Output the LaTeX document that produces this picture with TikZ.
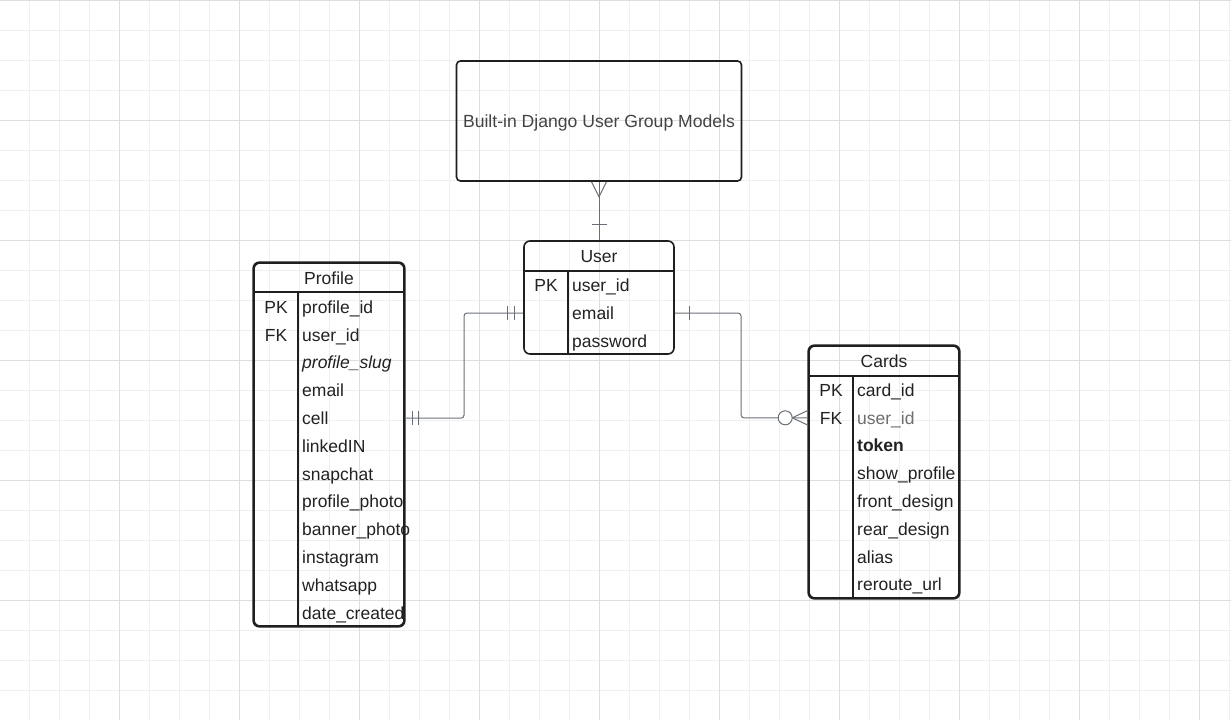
\documentclass[tikz,border=0pt]{standalone}
\usepackage{fontspec}
\setmainfont{Liberation Sans}
\usetikzlibrary{positioning,calc}
\definecolor{gridmin}{HTML}{EFEFEF}
\definecolor{gridmaj}{HTML}{DEDEDE}
\definecolor{boxline}{HTML}{1F1F1F}
\definecolor{relline}{HTML}{6B7077}
\definecolor{txt}{HTML}{222222}
\definecolor{fktxt}{HTML}{6E6E6E}
\tikzset{
  tbl/.style={draw=boxline, line width=1.6pt, rounded corners=6pt, minimum width=150pt, inner sep=0pt},
  fld/.style={anchor=west, inner sep=0pt, text height=12.6pt, text depth=0pt, text=txt, font=\fontsize{17.5}{20}\selectfont},
  keyfld/.style={fld, anchor=center},
  sep/.style={draw=boxline, line width=1.6pt},
  rel/.style={draw=relline, line width=1pt, rounded corners=3pt},
}
\begin{document}
\begin{tikzpicture}[x=1pt,y=-1pt]
 \fill[white] (0,0) rectangle (1231,720);
 \useasboundingbox (0,0) rectangle (1231,720);
 % grid
 \foreach \gx in {1,...,41} \draw[gridmin, line width=1pt] ({30*\gx-0.5},0) -- ({30*\gx-0.5},720);
 \foreach \gy in {0,...,23} \draw[gridmin, line width=1pt] (0,{30*\gy+0.5}) -- (1231,{30*\gy+0.5});
 \foreach \gx in {1,...,10} \draw[gridmaj, line width=1pt] ({120*\gx-0.5},0) -- ({120*\gx-0.5},720);
 \foreach \gy in {0,...,5} \draw[gridmaj, line width=1pt] (0,{120*\gy+0.5}) -- (1231,{120*\gy+0.5});

 % django models
 \node[draw=boxline, line width=1.6pt, rounded corners=4pt, minimum width=285pt, minimum height=120pt] (djm) at (599,121) {};
 \node[keyfld, text=txt!85!white, font=\fontsize{17.6}{20}\selectfont] (djmtxt) at (djm.center) {Built-in Django User Group Models};

 % user
 \node[tbl, minimum height=113pt] (user) at (599,297.5) {};
 \node[keyfld] (userhd) at (599,256) {User};
 \draw[sep] (user.west |- 0,271) -- (user.east |- 0,271);
 \draw[sep] (568,271) -- (568,0 |- user.south);
 \node[keyfld] at (546,285) {PK};
 \foreach \nm/\txt [count=\i from 0] in {uid/user\_id, uemail/email, upass/password}
   \node[fld] (\nm) at (572,{285+28*\i}) {\txt};

 % profile
 \node[tbl, minimum height=363pt] (profile) at (329,444.5) {};
 \node[keyfld] (profilehd) at (329,278) {Profile};
 \draw[sep] (profile.west |- 0,292) -- (profile.east |- 0,292);
 \draw[sep] (298,292) -- (298,0 |- profile.south);
 \node[keyfld] at (276,307) {PK};
 \node[keyfld] at (276,334.8) {FK};
 \foreach \nm/\txt [count=\i from 0] in {pid/profile\_id, puser/user\_id, pslug/{\itshape profile\_slug},
     pemail/email, pcell/cell, plinked/linkedIN, psnap/snapchat, pphoto/profile\_photo,
     pbanner/banner\_photo, pinsta/instagram, pwhats/whatsapp, pdate/date\_created}
   \node[fld] (\nm) at (302,{307+27.8*\i}) {\txt};
 \draw[draw=boxline, line width=1.6pt, rounded corners=6pt] (profile.north west) rectangle (profile.south east);

 % cards
 \node[tbl, minimum height=252pt] (cards) at (884,472) {};
 \node[keyfld] (cardshd) at (884,361) {Cards};
 \draw[sep] (cards.west |- 0,376) -- (cards.east |- 0,376);
 \draw[sep] (853,376) -- (853,0 |- cards.south);
 \node[keyfld] at (831,390) {PK};
 \node[keyfld] at (831,417.8) {FK};
 \foreach \nm/\txt [count=\i from 0] in {cid/card\_id, cuser/{\color{fktxt}user\_id}, ctoken/{\bfseries token},
     cshow/show\_profile, cfront/front\_design, crear/rear\_design, calias/alias, creroute/reroute\_url}
   \node[fld] (\nm) at (857,{390+27.8*\i}) {\txt};
 \draw[draw=boxline, line width=1.6pt, rounded corners=6pt] (cards.north west) rectangle (cards.south east);

 % user -- django models
 \draw[rel] (djm.south) -- (user.north);
 \draw[rel, rounded corners=0pt] ($(djm.south)+(-7.5,0)$) -- ($(djm.south)+(0,15)$) -- ($(djm.south)+(7.5,0)$);
 \draw[rel] ($(user.north)+(-7.5,-16)$) -- ($(user.north)+(7.5,-16)$);

 % user -- profile
 \coordinate (uw) at (user.west |- uemail);
 \coordinate (pe) at (profile.east |- pcell);
 \draw[rel] (uw) -- (464,0 |- uw) -- (464,0 |- pe) -- (pe);
 \draw[rel] ($(uw)+(-9,-7)$) -- ++(0,14);
 \draw[rel] ($(uw)+(-16,-7)$) -- ++(0,14);
 \draw[rel] ($(pe)+(8,-7)$) -- ++(0,14);
 \draw[rel] ($(pe)+(14,-7)$) -- ++(0,14);

 % user -- cards
 \coordinate (ue) at (user.east |- uemail);
 \coordinate (cw) at (cards.west |- cuser);
 \draw[rel] (ue) -- (741,0 |- ue) -- (741,0 |- cw) -- (cw);
 \draw[rel] ($(ue)+(15,-7)$) -- ++(0,14);
 \draw[rel, rounded corners=0pt] ($(cw)+(0,-7.5)$) -- ($(cw)+(-16,0)$) -- ($(cw)+(0,7.5)$);
 \draw[rel, fill=white] ($(cw)+(-23,0)$) circle (7pt);
\end{tikzpicture}
\end{document}
